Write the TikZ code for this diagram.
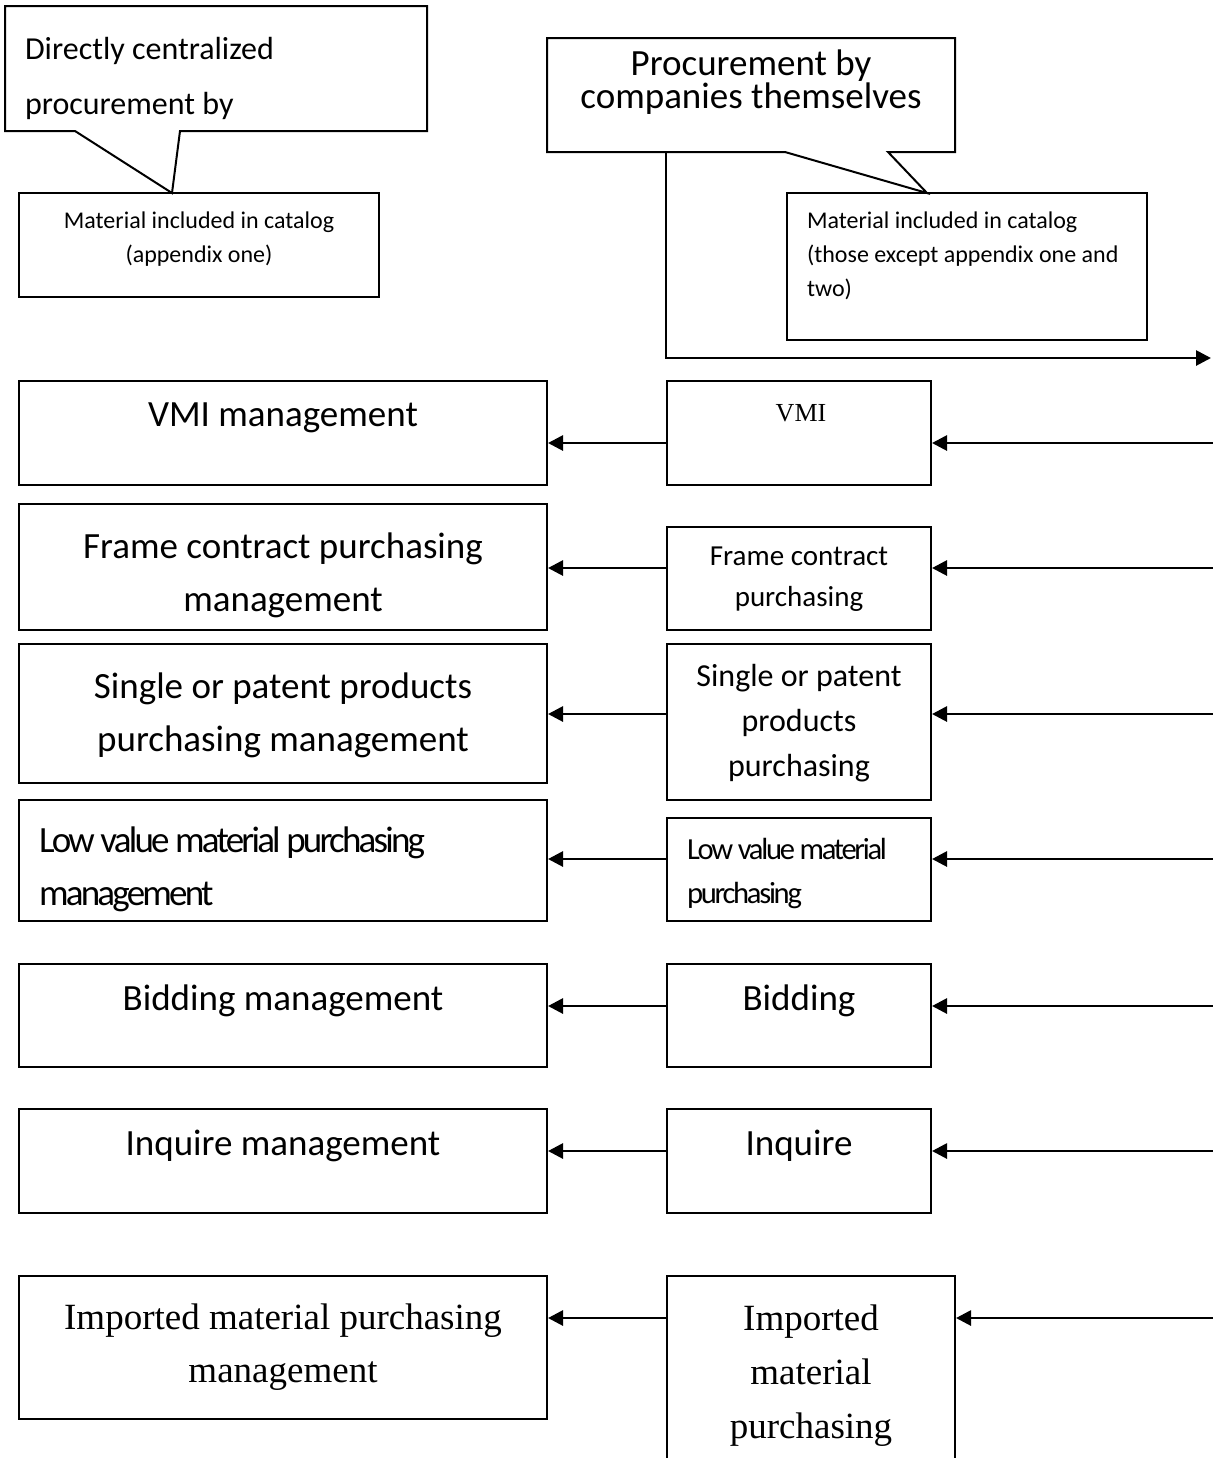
\documentclass[tikz,border=0pt]{standalone}
\usepackage{fontspec}
\setmainfont{Carlito}
\newfontfamily\timesfont{Liberation Serif}
\newfontfamily\tightfont{Carlito}[LetterSpace=-7.5]
\usetikzlibrary{arrows.meta,fit}
\tikzset{box/.style={draw, line width=1pt, inner sep=0pt},
  feed/.style={line width=1.4pt, -{Triangle[length=7.5pt,width=7.5pt]}},
  big/.style={font=\fontsize{18.5}{26.5}\selectfont, align=center},
  small/.style={font=\fontsize{12}{17}\selectfont},
  serif/.style={font=\timesfont\fontsize{18.5}{26.5}\selectfont, align=center}}

\begin{document}
\begin{tikzpicture}[x=0.5pt,y=-0.5pt]
\useasboundingbox (0,0) rectangle (1213,1458);
\draw[line width=1pt] (5,6)--(427,6)--(427,131)--(180,131)--(172,193)--(75,131)--(5,131)--cycle;
\node[anchor=west, align=left, font=\fontsize{16}{27.5}\selectfont] (dctext) at (18,78) {Directly centralized\\procurement by};
\node[box, fit={(19,193) (379,297)}] (cat1) {};
\node[small, align=center] (cat1text) at (199,239) {Material included in catalog\\(appendix one)};

\draw[line width=1pt] (547,38)--(955,38)--(955,152)--(888,152)--(927,193)--(785,152)--(547,152)--cycle;
\node[font=\fontsize{18.5}{16.5}\selectfont, align=center] (pctext) at (751,82) {Procurement by\\companies themselves};
\node[box, fit={(787,193) (1147,340)}] (cat2) {};
\node[small, anchor=west, align=left] (cat2text) at (800,256) {Material included in catalog\\(those except appendix one and\\two)};
\coordinate (split) at (666,152);
\coordinate (feedend) at (1211,358);
\draw[feed] (split) |- (feedend);

\node[box, fit={(19,381) (547,485)}] (vmiM) {};
\node[box, fit={(667,381) (931,485)}] (vmi) {};
\node[big] (vmiMtext) at (283,418) {VMI management};
\node[font=\timesfont\fontsize{13}{15}\selectfont] (vmitext) at (801,413) {VMI};
\coordinate (in1) at (1213,443);
\draw[feed] (in1) -- (vmi.east |- in1);
\draw[feed] (vmi.west |- in1) -- (vmiM.east |- in1);

\node[box, fit={(19,504) (547,630)}] (frameM) {};
\node[box, fit={(667,527) (931,630)}] (frame) {};
\node[big] (frameMtext) at (283,575) {Frame contract purchasing\\management};
\node[font=\fontsize{14.5}{20.5}\selectfont, align=center] (frametext) at (799,579) {Frame contract\\purchasing};
\coordinate (in2) at (1213,568);
\draw[feed] (in2) -- (frame.east |- in2);
\draw[feed] (frame.west |- in2) -- (frameM.east |- in2);

\node[box, fit={(19,644) (547,783)}] (singleM) {};
\node[box, fit={(667,644) (931,800)}] (single) {};
\node[big] (singleMtext) at (283,715) {Single or patent products\\purchasing management};
\node[font=\fontsize{16}{22.5}\selectfont, align=center] (singletext) at (799,723) {Single or patent\\products\\purchasing};
\coordinate (in3) at (1213,714);
\draw[feed] (in3) -- (single.east |- in3);
\draw[feed] (single.west |- in3) -- (singleM.east |- in3);

\node[box, fit={(19,800) (547,921)}] (lowM) {};
\node[box, fit={(667,818) (931,921)}] (low) {};
\node[anchor=west, align=left, font=\tightfont\fontsize{18.5}{26.5}\selectfont] (lowMtext) at (32,869) {Low value material purchasing\\management};
\node[anchor=west, align=left, font=\tightfont\fontsize{15.3}{22}\selectfont] (lowtext) at (680,873) {Low value material\\purchasing};
\coordinate (in4) at (1213,859);
\draw[feed] (in4) -- (low.east |- in4);
\draw[feed] (low.west |- in4) -- (lowM.east |- in4);

\node[box, fit={(19,964) (547,1067)}] (bidM) {};
\node[box, fit={(667,964) (931,1067)}] (bid) {};
\node[big] (bidMtext) at (283,1001) {Bidding management};
\node[big] (bidtext) at (799,1001) {Bidding};
\coordinate (in5) at (1213,1006);
\draw[feed] (in5) -- (bid.east |- in5);
\draw[feed] (bid.west |- in5) -- (bidM.east |- in5);

\node[box, fit={(19,1109) (547,1213)}] (inqM) {};
\node[box, fit={(667,1109) (931,1213)}] (inq) {};
\node[big] (inqMtext) at (283,1146) {Inquire management};
\node[big] (inqtext) at (799,1146) {Inquire};
\coordinate (in6) at (1213,1151);
\draw[feed] (in6) -- (inq.east |- in6);
\draw[feed] (inq.west |- in6) -- (inqM.east |- in6);

\node[box, fit={(19,1276) (547,1419)}] (impM) {};
\node[box, fit={(667,1276) (955,1480)}] (imp) {};
\node[serif] (impMtext) at (283,1347) {Imported material purchasing\\management};
\node[serif, font=\timesfont\fontsize{18.5}{27}\selectfont] (imptext) at (811,1376) {Imported\\material\\purchasing};
\coordinate (in7) at (1213,1318);
\draw[feed] (in7) -- (imp.east |- in7);
\draw[feed] (imp.west |- in7) -- (impM.east |- in7);
\end{tikzpicture}
\end{document}
